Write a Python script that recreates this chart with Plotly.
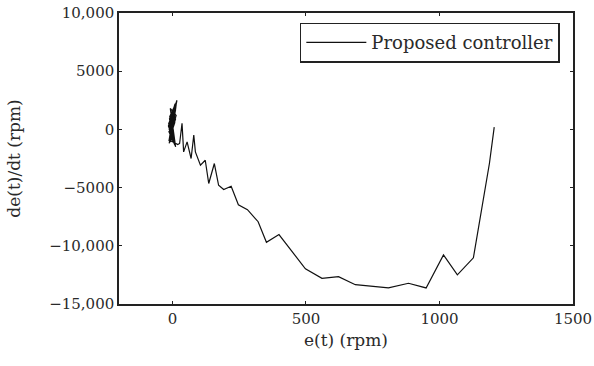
import plotly.graph_objects as go

# Trajectory in the phase plane (e, de/dt), from start to the origin
e_main = [1205, 1187, 1127, 1067, 1015, 950, 884, 809, 685, 622, 560, 498,
          399, 352, 321, 281, 247, 220, 192, 173, 157, 136, 123, 105, 86, 80,
          70, 55, 42, 36, 27]
de_main = [200, -2930, -11030, -12500, -10780, -13620, -13220, -13620, -13340,
           -12650, -12790, -11980, -9030, -9700, -7930, -6900, -6480, -4890,
           -5170, -4800, -2930, -4650, -2650, -3080, -1930, -490, -2500, -1070,
           -1930, 517, -1210]
# Oscillation cluster near the origin (dense, reads as a solid blob)
e_clu = [20, -12, 17, -15, 12, -8, 14, -13, 10, -11, 8, -6, 12, -10, 9, -8,
         6, -5, 9, -7, 7, -5, 4, -3, 5, -4, 3, -2, 2, 0, 1,
         15, -12, 13, -14, 11, -10, 16, -9, 12, -13, 9, -11, 14, -7, 10, -12,
         8, -6, 11, -9, 7, -4, 13, -8, 6, -10, 5, -3, 4, -2, 1]
de_clu = [-1300, -900, 2500, 300, -1500, 1800, 1200, -1000, 2200, 600, -1300,
          1500, 900, -700, 2000, 200, -1100, 1300, 600, -500, 1600, 100, -800,
          900, 400, -300, 1000, 0, -400, 300, 0,
          2300, -1200, 1900, 500, -1400, 1100, 2400, -800, 1700, -200, -1350,
          900, 2100, -1100, 1400, 0, -1200, 1200, 1800, -600, 1000, -900, 2000,
          400, -1000, 700, 1500, -700, 800, -200, 0]

x_vals = e_main + e_clu
y_vals = de_main + de_clu

x_ticks = [0, 500, 1000, 1500]
x_ticktext = ["0", "500", "1000", "1500"]
y_ticks = [-15000, -10000, -5000, 0, 5000, 10000]
y_ticktext = ["\u221215,000", "\u221210,000", "\u22125000", "0", "5000", "10,000"]

FONT = "DejaVu Serif"
TXT = "#2a2a2a"

fig = go.Figure()
fig.add_trace(go.Scatter(
    x=x_vals, y=y_vals, mode="lines", name="Proposed controller",
    line=dict(color="#111111", width=1.2),
))

axis_common = dict(
    showgrid=False, zeroline=False, showline=True, linecolor="#222",
    linewidth=1.5, mirror="ticks", ticks="inside", ticklen=3,
    tickcolor="#222", tickwidth=1, automargin=False,
    ticklabeloverflow="allow",
    tickfont=dict(family=FONT, size=15, color=TXT),
)

fig.update_layout(
    width=594, height=366,
    margin=dict(l=119, r=21, t=13, b=62, autoexpand=False),
    paper_bgcolor="white", plot_bgcolor="white",
    font=dict(family=FONT, color=TXT),
    showlegend=True,
    legend=dict(
        x=0.971, y=0.967, xanchor="right", yanchor="top",
        bordercolor="#222", borderwidth=1.5, bgcolor="white",
        font=dict(family=FONT, size=18, color=TXT),
        itemwidth=60,
    ),
    xaxis=dict(
        range=[-200, 1500], tickvals=x_ticks, ticktext=x_ticktext,
        title=dict(text="e(t) (rpm)", font=dict(family=FONT, size=17, color=TXT), standoff=7),
        **axis_common,
    ),
    yaxis=dict(
        range=[-15000, 10000], tickvals=y_ticks, ticktext=y_ticktext,
        title=dict(text="de(t)/dt (rpm)", font=dict(family=FONT, size=17, color=TXT), standoff=24),
        **axis_common,
    ),
)

# remove the default 8px page margin so the figure fills the window exactly
fig.write_html("out.html", config={"displayModeBar": False},
               post_script="document.body.style.margin='0';")
